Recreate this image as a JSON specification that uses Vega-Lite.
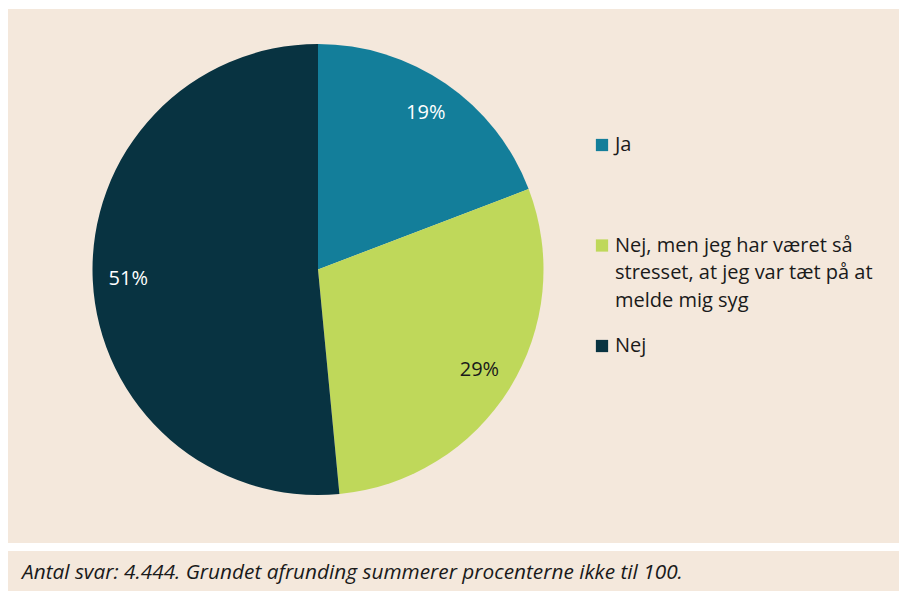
{
  "$schema": "https://vega.github.io/schema/vega-lite/v6.json",
  "background": "#ffffff",
  "padding": {"left": 8, "top": 9, "right": 0, "bottom": 0},
  "config": {
    "view": {"fill": "#f4e8dc", "stroke": null},
    "font": "Open Sans",
    "style": {"guide-label": {"dy": -10, "lineHeight": 27.5}, "cell": {"fill": "#f4e8dc", "stroke": null}}
  },
  "datasets": {
    "svar": [
      {"nr": 1, "svar": "Ja", "andel": 0.19},
      {"nr": 2, "svar": "Nej, men jeg har været så stresset, at jeg var tæt på at melde mig syg", "andel": 0.29},
      {"nr": 3, "svar": "Nej", "andel": 0.51}
    ]
  },
  "spacing": 8,
  "resolve": {"scale": {"color": "shared"}, "legend": {"color": "shared"}},
  "vconcat": [
    {
      "spacing": 0,
      "resolve": {"scale": {"color": "shared"}, "legend": {"color": "shared"}},
      "hconcat": [
        {
          "width": 620,
          "height": 534,
          "view": {"fill": "#f4e8dc", "stroke": null},
          "data": {"name": "svar"},
          "encoding": {
            "theta": {"field": "andel", "type": "quantitative", "stack": true},
            "order": {"field": "nr", "type": "quantitative"}
          },
          "layer": [
            {
              "mark": {"type": "arc", "radius": 225.5, "yOffset": -6.5},
              "encoding": {
                "color": {
                  "field": "svar",
                  "type": "nominal",
                  "scale": {
                    "domain": ["Ja", "Nej, men jeg har været så stresset, at jeg var tæt på at melde mig syg", "Nej"],
                    "range": ["#137e9a", "#bfd85a", "#083341"]
                  },
                  "legend": {
                    "orient": "none",
                    "legendX": 584,
                    "legendY": 126,
                    "title": null,
                    "padding": 0,
                    "symbolType": "square",
                    "symbolSize": 150,
                    "symbolStrokeWidth": 0,
                    "symbolOpacity": 1,
                    "labelFont": "Open Sans",
                    "labelFontSize": 20,
                    "labelColor": "#1a1a1a",
                    "labelLimit": 340,
                    "labelBaseline": "top",
                    "labelOffset": 3,
                    "gridAlign": "all",
                    "rowPadding": 25.5,
                    "labelExpr": "datum.label === 'Nej, men jeg har været så stresset, at jeg var tæt på at melde mig syg' ? ['Nej, men jeg har været så', 'stresset, at jeg var tæt på at', 'melde mig syg'] : datum.label"
                  }
                }
              }
            },
            {
              "mark": {"type": "text", "radius": 190, "yOffset": -6.5, "font": "Open Sans", "fontSize": 20},
              "encoding": {
                "text": {"field": "andel", "type": "quantitative", "format": ".0%"},
                "detail": {"field": "svar", "type": "nominal"},
                "color": {"condition": {"test": "datum.nr === 2", "value": "#1a1a1a"}, "value": "#ffffff"}
              }
            }
          ]
        },
        {
          "width": 271,
          "height": 534,
          "view": {"fill": "#f4e8dc", "stroke": null},
          "data": {"values": []},
          "mark": "point"
        }
      ]
    },
    {
      "width": 891,
      "height": 40,
      "view": {"fill": "#f4e8dc", "stroke": null},
      "data": {"values": []},
      "mark": "point",
      "title": {
        "text": "Antal svar: 4.444. Grundet afrunding summerer procenterne ikke til 100.",
        "orient": "bottom",
        "anchor": "start",
        "offset": -28,
        "dx": 14,
        "font": "Open Sans",
        "fontSize": 20.8,
        "fontStyle": "italic",
        "fontWeight": "normal",
        "color": "#1a1a1a"
      }
    }
  ]
}
